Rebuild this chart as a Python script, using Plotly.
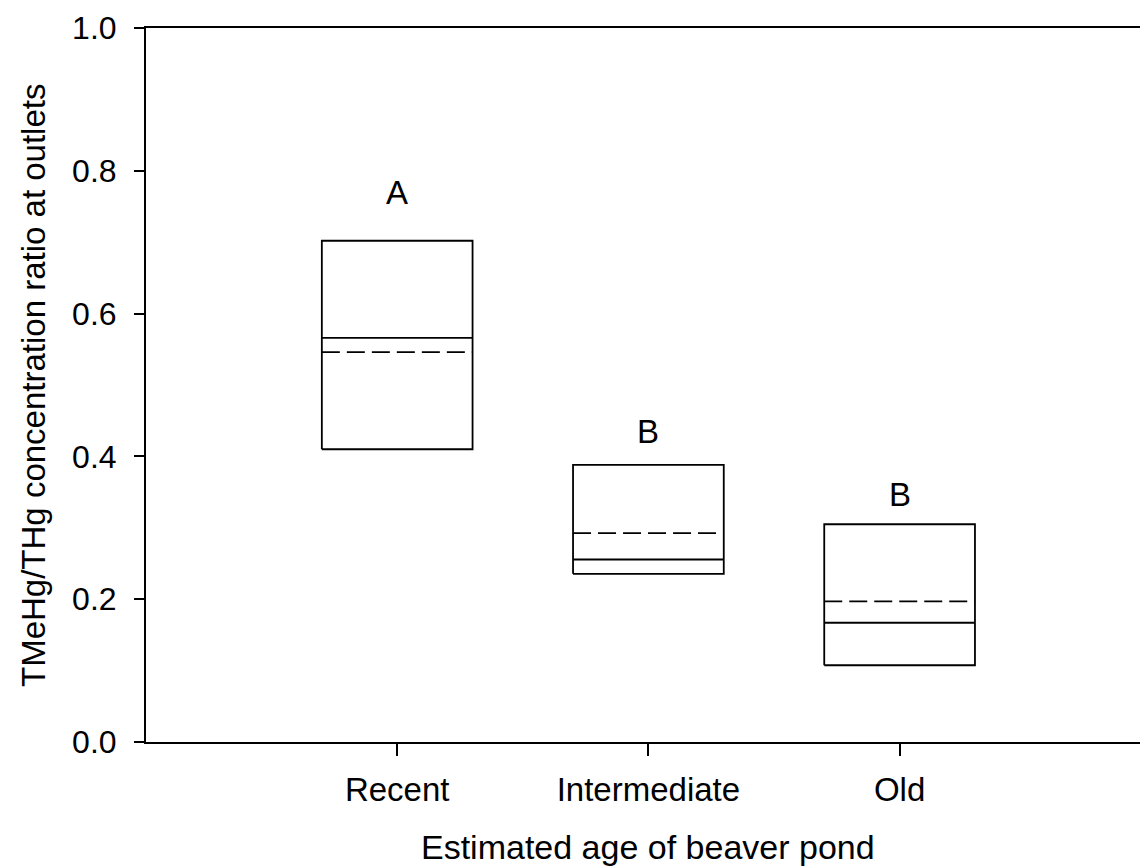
import plotly.graph_objects as go

categories = ["Recent", "Intermediate", "Old"]
positions = [1, 2, 3]
q1 = [0.410, 0.2355, 0.1075]
q3 = [0.702, 0.388, 0.305]
median = [0.566, 0.2556, 0.167]
mean = [0.546, 0.2925, 0.197]
letters = ["A", "B", "B"]
letter_y = [0.769, 0.4345, 0.346]
y_ticks = [0.0, 0.2, 0.4, 0.6, 0.8, 1.0]

half_w = 0.30
FONT = "Liberation Sans, Arial, sans-serif"

fig = go.Figure()
for c, lo, hi, md, mn in zip(positions, q1, q3, median, mean):
    fig.add_trace(go.Scatter(
        x=[c - half_w, c + half_w, c + half_w, c - half_w, c - half_w],
        y=[lo, lo, hi, hi, lo], mode="lines",
        line=dict(color="black", width=1.8), showlegend=False, hoverinfo="skip"))
    fig.add_trace(go.Scatter(
        x=[c - half_w, c + half_w], y=[md, md], mode="lines",
        line=dict(color="black", width=1.8), showlegend=False, hoverinfo="skip"))
    fig.add_trace(go.Scatter(
        x=[c - half_w, c + half_w], y=[mn, mn], mode="lines",
        line=dict(color="black", width=1.6, dash="18px,7px"), showlegend=False, hoverinfo="skip"))

for c, t, ly in zip(positions, letters, letter_y):
    fig.add_annotation(x=c, y=ly, xref="x", yref="y", text=t, showarrow=False,
                       font=dict(family=FONT, size=33, color="black"))

fig.add_annotation(x=2, y=-0.118, xref="x", yref="paper", text="Estimated age of beaver pond",
                   showarrow=False, yanchor="top", font=dict(family=FONT, size=34, color="black"))
fig.add_annotation(x=-0.1137, y=0.5, xref="paper", yref="paper",
                   text="TMeHg/THg concentration ratio at outlets", textangle=-90,
                   showarrow=False, xanchor="center", yanchor="middle",
                   font=dict(family=FONT, size=33, color="black"))

fig.update_layout(
    width=1140, height=868,
    margin=dict(l=146, r=0, t=28, b=126),
    paper_bgcolor="white", plot_bgcolor="white",
    font=dict(family=FONT, size=33, color="black"),
    showlegend=False,
    xaxis=dict(range=[0, 3.957], tickvals=positions, ticktext=categories,
               showgrid=False, zeroline=False, showline=True, linecolor="black",
               linewidth=2, mirror=True, ticks="outside", ticklen=12, tickwidth=2,
               tickcolor="black", ticklabelstandoff=5,
               tickfont=dict(family=FONT, size=33, color="black")),
    yaxis=dict(range=[0, 1.0], tickvals=y_ticks, tickformat=".1f",
               showgrid=False, zeroline=False, showline=True, linecolor="black",
               linewidth=2, ticks="outside", ticklen=10, tickwidth=2,
               tickcolor="black", ticklabelstandoff=11,
               tickfont=dict(family=FONT, size=32, color="black")),
)

fig.write_html("out.html")
